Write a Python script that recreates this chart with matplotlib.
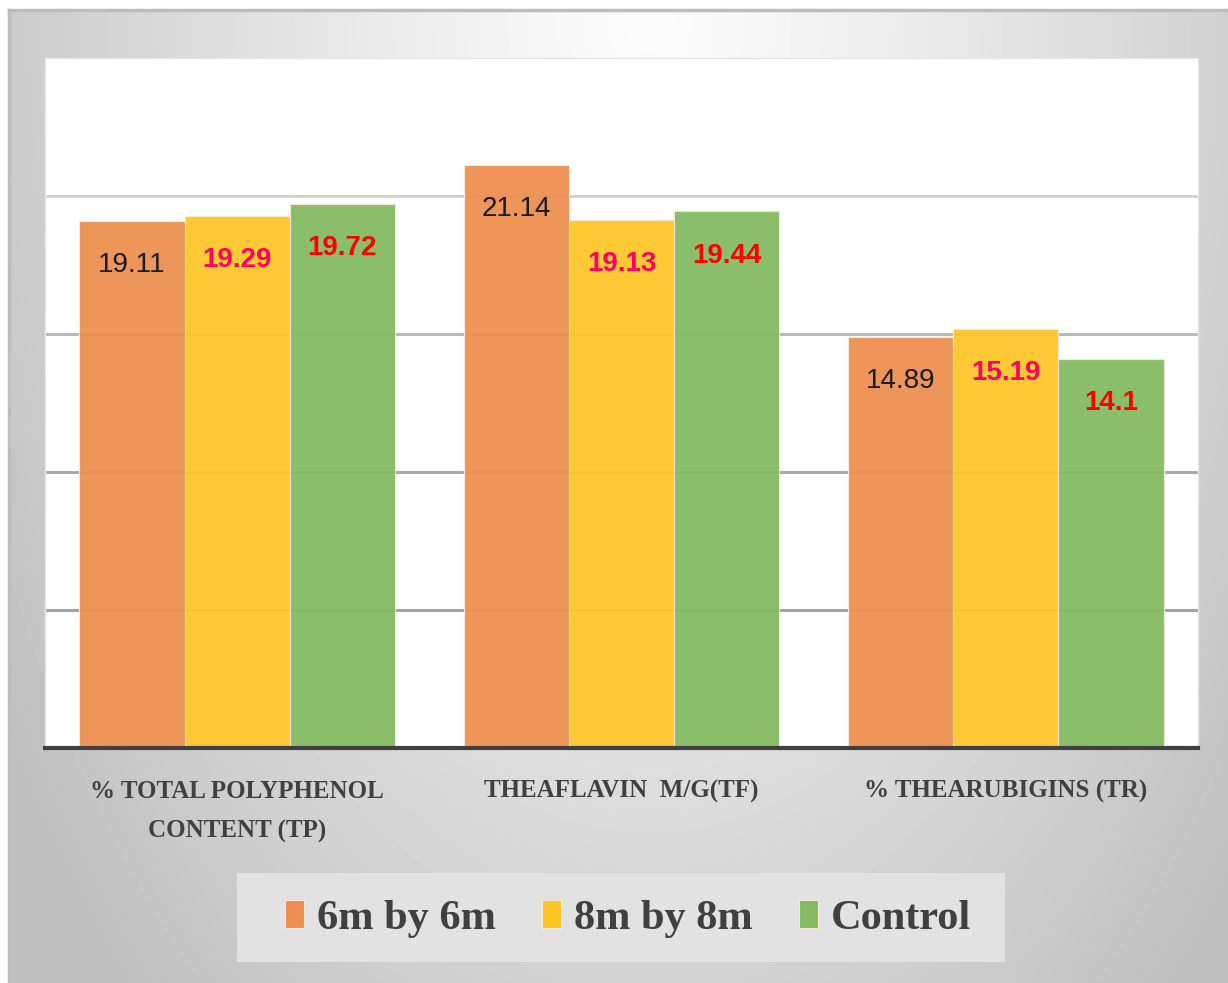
import numpy as np
import matplotlib.pyplot as plt
from matplotlib.patches import Rectangle

categories = ['% TOTAL POLYPHENOL\nCONTENT (TP)', 'THEAFLAVIN  M/G(TF)', '% THEARUBIGINS (TR)']
series = ['6m by 6m', '8m by 8m', 'Control']
spacing_6m = [19.11, 21.14, 14.89]
spacing_8m = [19.29, 19.13, 15.19]
control = [19.72, 19.44, 14.1]
values = [spacing_6m, spacing_8m, control]

colors = ['#ED8F50', '#FEC627', '#84BA62']
label_colors = ['#1a1a1a', '#FF0066', '#FF0000']
label_weights = ['normal', 'bold', 'bold']

W, H = 1228, 983
fig = plt.figure(figsize=(W / 100, H / 100), dpi=100)
fig.patch.set_facecolor('white')

# grey panel with a soft radial light from the top centre
bg = fig.add_axes([9 / W, 0, 1 - 9 / W, 1 - 10 / H])
yy, xx = np.mgrid[0:973, 0:1219]
d = np.sqrt(((xx - 640) / 720.0) ** 2 + (yy / 1250.0) ** 2)
shade = np.clip(252 - 56 * d ** 1.2, 192, 252) / 255.0
bg.imshow(shade, cmap='gray', vmin=0, vmax=1, aspect='auto', interpolation='bilinear')
bg.set_xticks([])
bg.set_yticks([])
for side in ['right', 'bottom']:
    bg.spines[side].set_visible(False)
for side in ['top', 'left']:
    bg.spines[side].set_color('#bdbdbd')
    bg.spines[side].set_linewidth(2.5)

ax = fig.add_axes([45 / W, (H - 748) / H, 1153 / W, 690 / H])
ax.set_facecolor('white')

x = np.arange(len(categories))
width = 0.274
offsets = [-width, 0, width]

grid_levels = [5, 10, 15, 20]
grid_colors = ['#a3a3a3', '#ababab', '#b9b9b9', '#d2d2d2']
for lvl, gc in zip(grid_levels, grid_colors):
    ax.axhline(lvl, color=gc, linewidth=2.2, zorder=1)

for i in range(3):
    bars = ax.bar(x + offsets[i], values[i], width, color=colors[i], alpha=0.94,
                  edgecolor='#fbe9d8', linewidth=0.8, zorder=2, label=series[i])
    for b, v in zip(bars, values[i]):
        ax.annotate(f'{v:g}', (b.get_x() + b.get_width() / 2, v),
                    xytext=(0, -32), textcoords='offset points',
                    ha='center', va='center', fontsize=20,
                    color=label_colors[i], fontweight=label_weights[i],
                    family='Liberation Sans', zorder=4)

ax.set_xlim(-0.5, 2.5)
ax.set_ylim(0, 25)
ax.set_yticks([])
ax.set_xticks(x)
ax.set_xticklabels(categories, fontsize=18, fontweight='bold', color='#404040',
                   family='Liberation Serif', linespacing=1.95)
ax.tick_params(axis='x', length=0, pad=23)

for side in ['top', 'left', 'right']:
    ax.spines[side].set_color('#e6e6e6')
    ax.spines[side].set_linewidth(1)
ax.spines['bottom'].set_color('#404040')
ax.spines['bottom'].set_linewidth(3)
ax.spines['bottom'].set_zorder(5)

# legend panel
fig.patches.append(Rectangle((237 / W, (H - 962) / H), 768 / W, 89 / H,
                             transform=fig.transFigure, facecolor='#e2e2e2',
                             edgecolor='none', zorder=1))
handles, labels = ax.get_legend_handles_labels()
leg = fig.legend(handles, labels, loc='center', bbox_to_anchor=(628 / W, (H - 919) / H),
                 ncol=3, frameon=False, handlelength=0.45, handleheight=0.65,
                 handletextpad=0.3, columnspacing=1.1,
                 prop={'family': 'Liberation Serif', 'size': 30.5, 'weight': 'bold'})
for t in leg.get_texts():
    t.set_color('#404040')
for h in leg.legend_handles:
    h.set_alpha(1)

fig.savefig('out.png', dpi=100)
